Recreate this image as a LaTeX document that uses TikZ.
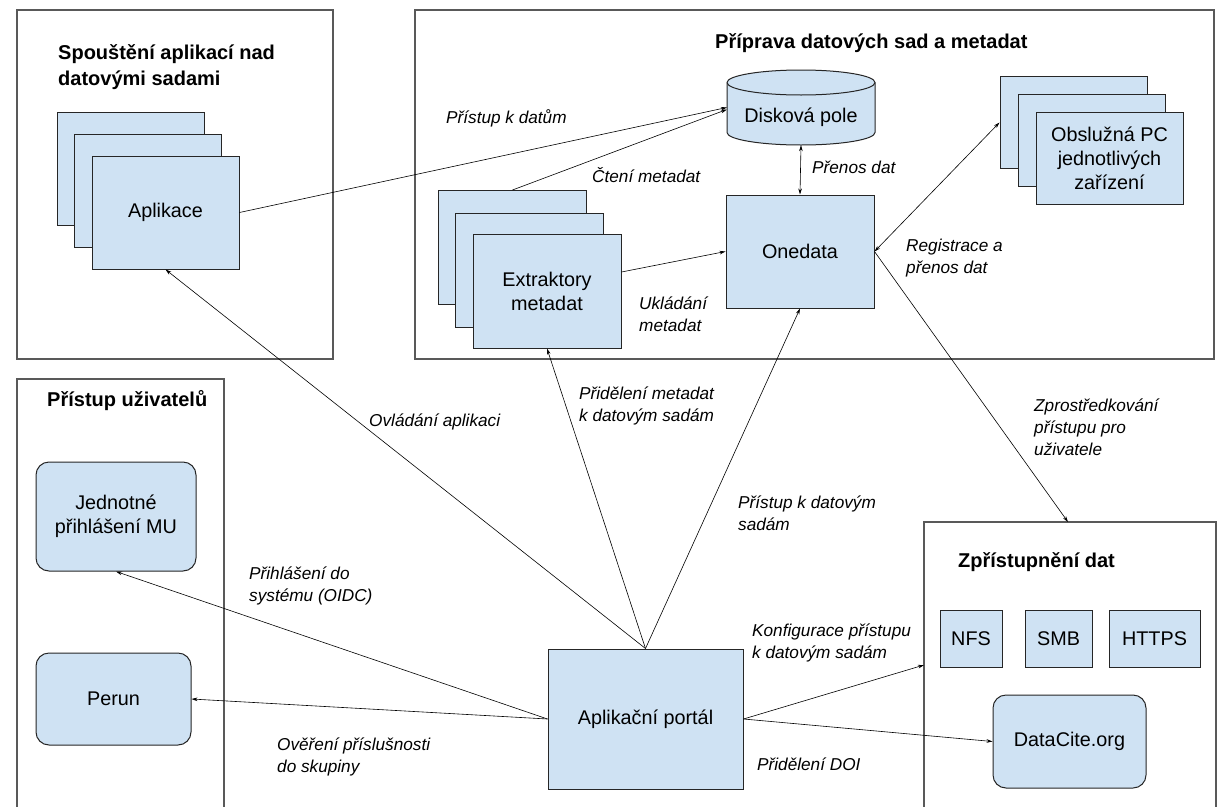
\documentclass[tikz,border=0pt]{standalone}
\usepackage{fontspec}
\setmainfont{Liberation Sans}
\usetikzlibrary{arrows.meta,calc}
\definecolor{boxblue}{HTML}{CFE2F3}
\definecolor{framegray}{HTML}{595959}

\begin{document}
\begin{tikzpicture}[x=1pt,y=-1pt,
  group/.style={draw=framegray, line width=1.1pt},
  grouptitle/.style={font=\bfseries\fontsize{20}{26}\selectfont, anchor=west, align=left, inner sep=0pt},
  blk/.style={draw=black!85, fill=boxblue, line width=1pt, inner sep=0pt,
              font=\fontsize{19.8}{24}\selectfont, align=center},
  stackbox/.style={blk, minimum width=147pt, minimum height=113pt},
  pcbox/.style={blk, minimum width=147pt, minimum height=92pt},
  rblk/.style={blk, rounded corners=13pt},
  proto/.style={blk, minimum height=57pt},
  conn/.style={line width=0.6pt, -{Stealth[length=6pt,width=3.6pt]}},
  biconn/.style={line width=0.6pt, {Stealth[length=6pt,width=3.6pt]}-{Stealth[length=6pt,width=3.6pt]}},
  lbl/.style={font=\itshape\fontsize{17.2}{22}\selectfont, anchor=west, align=left, inner sep=0pt}
]
\useasboundingbox (0,0) rectangle (1221,806);
\fill[white] (0,0) rectangle (1221,806);

% ---- group frames ----
\draw[group] (17,10) rectangle (333,359);
\draw[group] (415,10) rectangle (1214,359);
\draw[group] (17,810) -- (17,379) -- (224,379) -- (224,810);
\draw[group] (924,810) -- (924,522) -- (1216,522) -- (1216,810);

\node[grouptitle] (t1) at (58,67) {Spouštění aplikací nad\\datovými sadami};
\node[grouptitle] (t2) at (715,43) {Příprava datových sad a metadat};
\node[grouptitle] (t3) at (47,401) {Přístup uživatelů};
\node[grouptitle] (t4) at (958,562) {Zpřístupnění dat};

% ---- applications (stack) ----
\node[stackbox] (app1) at (130.5,169) {};
\node[stackbox] (app2) at (148,191) {};
\node[stackbox] (app3) at (165.5,212.5) {Aplikace};

% ---- disk array (cylinder) ----
\node[minimum width=148pt, minimum height=75pt, inner sep=0pt] (disk) at (801,107.5) {};
\filldraw[fill=boxblue, draw=black!85, line width=1pt]
  (727,82.5) -- (727,132.5) arc[start angle=180, end angle=360, x radius=74pt, y radius=12.5pt]
  -- (875,82.5) arc[start angle=0, end angle=180, x radius=74pt, y radius=12.5pt] -- cycle;
\draw[black!85, line width=1pt] (727,82.5) arc[start angle=180, end angle=360, x radius=74pt, y radius=12.5pt];
\node[font=\fontsize{19.8}{24}\selectfont] (disklbl) at (801,117) {Disková pole};

% ---- Onedata ----
\node[blk, minimum width=148pt, minimum height=113pt] (onedata) at (800,251.5) {Onedata};

% ---- metadata extractors (stack) ----
\node[stackbox, minimum width=148pt, minimum height=114pt] (ext1) at (512.5,247.5) {};
\node[stackbox, minimum width=148pt, minimum height=114pt] (ext2) at (529.5,270) {};
\node[stackbox, minimum width=148pt, minimum height=114pt] (ext3) at (547,291) {Extraktory\\metadat};

% ---- instrument PCs (stack) ----
\node[pcbox] (pc1) at (1073.5,122.5) {};
\node[pcbox] (pc2) at (1091.5,140) {};
\node[pcbox] (pc3) at (1109.5,158) {Obslužná PC\\jednotlivých\\zařízení};

% ---- user access ----
\node[rblk, minimum width=160pt, minimum height=109pt] (sso) at (116,516.5) {Jednotné\\přihlášení MU};
\node[rblk, minimum width=155pt, minimum height=92pt] (perun) at (113.5,699) {Perun};

% ---- portal ----
\node[blk, minimum width=195pt, minimum height=140pt] (portal) at (645.5,719) {Aplikační portál};

% ---- data access ----
\node[proto, minimum width=62pt] (nfs) at (971,638.5) {NFS};
\node[proto, minimum width=67pt] (smb) at (1058.5,638.5) {SMB};
\node[proto, minimum width=91pt] (https) at (1154.5,638.5) {HTTPS};
\node[rblk, minimum width=153pt, minimum height=93pt] (datacite) at (1069.5,741.5) {DataCite.org};
\coordinate (zptop) at (1068,522);
\coordinate (zpleft) at (924,665);

% ---- connectors ----
\draw[conn] (app3.east) -- (disk.west);
\draw[conn] (ext1.north) -- ($(disk.west)+(0,2)$);
\draw[conn] ($(ext3.east)+(0,-19)$) -- (onedata.west);
\draw[biconn] (disk.south) -- (onedata.north);
\draw[biconn] (onedata.east) -- (pc1.west);
\draw[conn] (onedata.east) -- (zptop);
\draw[conn] (portal.north) -- (app3.south);
\draw[conn] (portal.north) -- (ext3.south);
\draw[conn] (portal.north) -- (onedata.south);
\draw[conn] (portal.west) -- (sso.south);
\draw[conn] (portal.west) -- (perun.east);
\draw[conn] (portal.east) -- (zpleft);
\draw[conn] (portal.east) -- (datacite.west);

% ---- connector labels ----
\node[lbl] (l1) at (446,118) {Přístup k datům};
\node[lbl] (l2) at (592,175) {Čtení metadat};
\node[lbl] (l3) at (639,314) {Ukládání\\metadat};
\node[lbl] (l4) at (812,167) {Přenos dat};
\node[lbl] (l5) at (906,258) {Registrace a\\přenos dat};
\node[lbl] (l6) at (1034,427) {Zprostředkování\\přístupu pro\\uživatele};
\node[lbl] (l7) at (369,422) {Ovládání aplikaci};
\node[lbl] (l8) at (579,406) {Přidělení metadat\\k datovým sadám};
\node[lbl] (l9) at (738,513) {Přístup k datovým\\sadám};
\node[lbl] (l10) at (249,586) {Přihlášení do\\systému (OIDC)};
\node[lbl] (l11) at (277,757) {Ověření příslušnosti\\do skupiny};
\node[lbl] (l12) at (752,643) {Konfigurace přístupu\\k datovým sadám};
\node[lbl] (l13) at (757,764) {Přidělení DOI};
\end{tikzpicture}
\end{document}
